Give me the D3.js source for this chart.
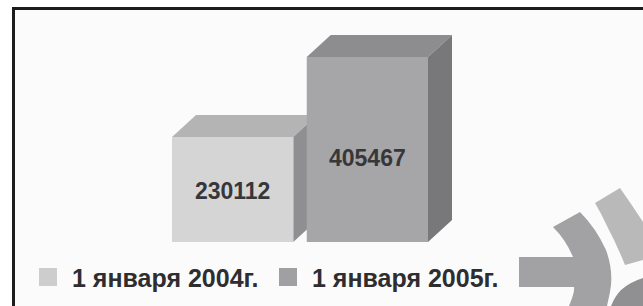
<!DOCTYPE html>
<html>
<head>
<meta charset="utf-8">
<script src="https://cdn.jsdelivr.net/npm/d3@7"></script>
<style>
  body { margin: 0; background: #fff; }
  svg { display: block; }
</style>
</head>
<body>
<script>
// data
var categories = ["1 января 2004г.", "1 января 2005г."];
var values = [230112, 405467];
var valueLabels = ["230112", "405467"];

var frontColors = ["#d5d5d6", "#a6a6a8"];
var topColors = ["#b4b4b5", "#8d8d8f"];
var sideColors = ["#8f8f91", "#78787b"];
var legendColors = ["#cdcdce", "#a0a0a2"];

var width = 643, height = 306;
var depthX = 24, depthY = 22;

var svg = d3.select("body")
  .append("svg")
    .attr("width", width)
    .attr("height", height);

// frame
svg.append("rect")
  .attr("x", 13.5).attr("y", 8.5)
  .attr("width", 700).attr("height", 400)
  .attr("fill", "#fbfbfb")
  .attr("stroke", "#1c1c1c")
  .attr("stroke-width", 3);

var x = d3.scaleBand()
  .domain(categories)
  .range([172, 428])
  .paddingInner(0.1);

var y = d3.scaleLinear()
  .domain([0, d3.max(values)])
  .range([242, 57]);

var bars = svg.selectAll(".bar")
  .data(values)
  .enter()
  .append("g")
    .attr("class", "bar");

// top face
bars.append("path")
  .attr("fill", function(d, i) { return topColors[i]; })
  .attr("d", function(d, i) {
    var x0 = x(categories[i]), x1 = x0 + x.bandwidth(), yt = y(d);
    return "M" + x0 + "," + yt
      + "L" + (x0 + depthX) + "," + (yt - depthY)
      + "L" + (x1 + depthX) + "," + (yt - depthY)
      + "L" + x1 + "," + yt + "Z";
  });

// side face
bars.append("path")
  .attr("fill", function(d, i) { return sideColors[i]; })
  .attr("d", function(d, i) {
    var x1 = x(categories[i]) + x.bandwidth(), yt = y(d), yb = y(0);
    return "M" + x1 + "," + yt
      + "L" + (x1 + depthX) + "," + (yt - depthY)
      + "L" + (x1 + depthX) + "," + (yb - depthY)
      + "L" + x1 + "," + yb + "Z";
  });

// front face
bars.append("rect")
  .attr("x", function(d, i) { return x(categories[i]); })
  .attr("y", function(d) { return y(d); })
  .attr("width", x.bandwidth())
  .attr("height", function(d) { return y(0) - y(d); })
  .attr("fill", function(d, i) { return frontColors[i]; });

// value labels
bars.append("text")
  .attr("x", function(d, i) { return x(categories[i]) + x.bandwidth() / 2; })
  .attr("y", function(d) { return y(0) - (y(0) - y(d)) * 0.41; })
  .attr("text-anchor", "middle")
  .style("font-family", "'Liberation Sans', Arial, sans-serif")
  .style("font-weight", "bold")
  .style("font-size", "23px")
  .attr("fill", "#37373a")
  .text(function(d, i) { return valueLabels[i]; });

// legend
var legendX = [39, 279];
var legend = svg.selectAll(".legend")
  .data(categories)
  .enter()
  .append("g")
    .attr("class", "legend")
    .attr("transform", function(d, i) { return "translate(" + legendX[i] + ",268)"; });

legend.append("rect")
  .attr("width", 18).attr("height", 18)
  .attr("fill", function(d, i) { return legendColors[i]; });

legend.append("text")
  .attr("x", 33)
  .attr("y", 19)
  .style("font-family", "'Liberation Sans', Arial, sans-serif")
  .style("font-weight", "bold")
  .style("font-size", "25px")
  .attr("fill", "#2e2e30")
  .text(function(d) { return d; });

// logo fragment, bottom right
var logo = svg.append("g");
logo.append("path")
  .attr("fill", "#b9b9ba")
  .attr("d", "M595,203 L620,188 Q632,205 643,222 L643,260 L625,265 Q617,245 607,226 Q601,213 595,203 Z");
logo.append("path")
  .attr("fill", "#a2a2a4")
  .attr("d", "M553,227 L580,212 Q596,228 606,250 Q614,272 610,292 L607,306 L569,306 Q575,292 574,287 L519,287 L519,257 L573,257 Q566,240 553,227 Z");
logo.append("path")
  .attr("fill", "#909092")
  .attr("d", "M611,306 Q615,296 621,290 Q630,282 643,278 L643,306 Z");
</script>
</body>
</html>
